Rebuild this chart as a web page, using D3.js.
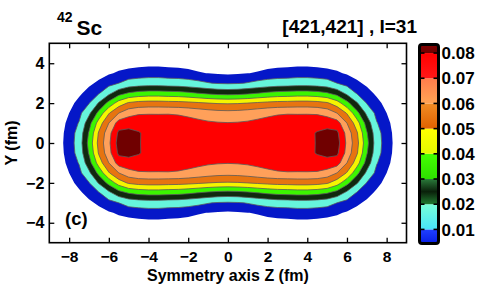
<!DOCTYPE html>
<html><head><meta charset="utf-8">
<script src="https://cdn.jsdelivr.net/npm/d3@7"></script>
<style>
body{margin:0;background:#fff}
svg{display:block}
text{font-family:"Liberation Sans",Arial,Helvetica,sans-serif;font-weight:bold;fill:#000}
</style>
</head><body>
<svg id="c" width="480" height="286"></svg>
<script>
// ---- data (one quadrant of the symmetric density, |Z| across, |Y| down) ----
const xHalf = [0,0.5,1,1.5,2,2.5,3,3.5,4,4.5,5,5.5,6,6.5,7,7.5,8,8.5,9];
const yHalf = [0,0.5,1,1.5,2,2.5,3,3.5,4,4.5,5];
const densityRows = [
 [0.0725,0.0727,0.0734,0.0743,0.0751,0.0758,0.0760,0.0763,0.0780,0.0805,0.0845,0.0842,0.0680,0.0533,0.0332,0.0145,0.0055,0.0030,0.0014],
 [0.0720,0.0722,0.0729,0.0738,0.0746,0.0753,0.0755,0.0758,0.0772,0.0808,0.0830,0.0820,0.0665,0.0513,0.0309,0.0135,0.0053,0.0029,0.0014],
 [0.0703,0.0706,0.0712,0.0722,0.0731,0.0737,0.0740,0.0742,0.0745,0.0755,0.0760,0.0745,0.0600,0.0446,0.0259,0.0105,0.0048,0.0026,0.0012],
 [0.0635,0.0639,0.0650,0.0665,0.0680,0.0691,0.0695,0.0694,0.0694,0.0690,0.0665,0.0600,0.0492,0.0332,0.0178,0.0074,0.0040,0.0021,0.0010],
 [0.0490,0.0493,0.0501,0.0513,0.0524,0.0532,0.0535,0.0540,0.0540,0.0533,0.0513,0.0446,0.0332,0.0210,0.0095,0.0050,0.0029,0.0015,0.0007],
 [0.0263,0.0268,0.0281,0.0299,0.0317,0.0330,0.0335,0.0341,0.0341,0.0332,0.0309,0.0259,0.0175,0.0092,0.0052,0.0034,0.0020,0.0011,0.0005],
 [0.0090,0.0094,0.0104,0.0118,0.0131,0.0141,0.0145,0.0153,0.0153,0.0145,0.0132,0.0100,0.0068,0.0047,0.0033,0.0021,0.0012,0.0006,0.0003],
 [0.0033,0.0035,0.0039,0.0044,0.0050,0.0054,0.0055,0.0058,0.0058,0.0055,0.0051,0.0045,0.0036,0.0027,0.0019,0.0012,0.0007,0.0004,0.0002],
 [0.0012,0.0013,0.0017,0.0021,0.0026,0.0029,0.0030,0.0031,0.0031,0.0030,0.0028,0.0024,0.0019,0.0014,0.0010,0.0006,0.0004,0.0002,0.0002],
 [0.0004,0.0005,0.0006,0.0008,0.0010,0.0011,0.0012,0.0015,0.0015,0.0014,0.0013,0.0011,0.0009,0.0007,0.0005,0.0003,0.0002,0.0001,0.0001],
 [0.0001,0.0001,0.0002,0.0003,0.0003,0.0004,0.0004,0.0006,0.0006,0.0006,0.0006,0.0005,0.0004,0.0003,0.0002,0.0002,0.0001,0.0001,0.0001]
];
const levels      = [0.004, 0.01, 0.02, 0.03, 0.04, 0.05, 0.06, 0.07, 0.08];
const levelColors = ["#0517c8","#66f5dc","#10290f","#3cf500","#f5f500","#e77410","#ffa05a","#ff0000","#700000"];
const barStops = [
 ["#2040ff","#0a22e8"],
 ["#78ffd8","#48e4f8"],
 ["#2a7a3a","#0a200a","#207a30"],
 ["#44ff00","#2ee000"],
 ["#ffff00","#e4f800"],
 ["#f08c24","#e06200"],
 ["#ff7c4c","#ffa454"],
 ["#ff0000","#ff1818"],
 ["#800000","#6a0000"]
];
const xTicks = [-8,-6,-4,-2,0,2,4,6,8];
const yTicks = [-4,-2,0,2,4];
const cbTicks = [0.01,0.02,0.03,0.04,0.05,0.06,0.07,0.08];
const cbDomain = [0.005, 0.0828];
const xDomain = [-9, 9], yDomain = [-5, 5];

// ---- layout ----
const svg = d3.select("#c");
const L = 49.3, R = 406.5, T = 43.3, B = 242.7;
const x = d3.scaleLinear().domain(xDomain).range([L, R]);
const y = d3.scaleLinear().domain(yDomain).range([B, T]);

// full grid from the quadrant
const xs = [...xHalf.slice(1).map(v => -v).reverse(), ...xHalf];
const ys = [...yHalf.slice(1).map(v => -v).reverse(), ...yHalf];
const nx = xs.length, ny = ys.length;
const values = [];
for (let j = 0; j < ny; j++) {
  const r = yHalf.indexOf(Math.abs(ys[j]));
  for (let i = 0; i < nx; i++) {
    const c = xHalf.indexOf(Math.abs(xs[i]));
    values.push(densityRows[r][c]);
  }
}
const xi = d3.scaleLinear().domain([0.5, nx - 0.5]).range([x(xs[0]), x(xs[nx - 1])]);
const yi = d3.scaleLinear().domain([0.5, ny - 0.5]).range([y(ys[0]), y(ys[ny - 1])]);
const proj = d3.geoTransform({point(px, py) { this.stream.point(xi(px), yi(py)); }});
const path = d3.geoPath(proj);

const contours = d3.contours().size([nx, ny]).thresholds(levels)(values);
const color = d3.scaleOrdinal().domain(levels).range(levelColors);

svg.append("clipPath").attr("id", "pc").append("rect")
  .attr("x", L).attr("y", T).attr("width", R - L).attr("height", B - T);
svg.append("g").attr("clip-path", "url(#pc)")
  .selectAll("path").data(contours).join("path")
  .attr("d", path)
  .attr("fill", d => color(d.value))
  .attr("stroke", (d, i) => i === 0 ? "none" : "#5a5a5a")
  .attr("stroke-width", 0.8)
  .attr("stroke-linejoin", "round");

// ---- axes ----
const fmt = d => d3.format("d")(d);
const gx = svg.append("g").attr("transform", `translate(0,${B})`)
  .call(d3.axisBottom(x).tickValues(xTicks).tickSize(-5).tickPadding(9).tickFormat(fmt));
const gxt = svg.append("g").attr("transform", `translate(0,${T})`)
  .call(d3.axisTop(x).tickValues(xTicks).tickSize(-5).tickFormat(""));
const gy = svg.append("g").attr("transform", `translate(${L},0)`)
  .call(d3.axisLeft(y).tickValues(yTicks).tickSize(-5).tickPadding(5).tickFormat(fmt));
const gyr = svg.append("g").attr("transform", `translate(${R},0)`)
  .call(d3.axisRight(y).tickValues(yTicks).tickSize(-5).tickFormat(""));
[gx, gxt, gy, gyr].forEach(g => {
  g.select(".domain").remove();
  g.selectAll(".tick line").attr("stroke", "#000").attr("stroke-width", 1.3);
  g.selectAll("text").attr("font-size", 16).attr("font-family", null).attr("fill", "#000");
});
gx.selectAll("text").attr("font-size", 15.5).attr("dy", "0.68em");
svg.append("rect").attr("x", L).attr("y", T).attr("width", R - L).attr("height", B - T)
  .attr("fill", "none").attr("stroke", "#000").attr("stroke-width", 1.6);

// ---- texts ----
svg.append("text").attr("x", 227.9).attr("y", 280.5).attr("text-anchor", "middle")
  .attr("font-size", 16).text("Symmetry axis Z (fm)");
svg.append("text").attr("transform", "translate(17,143) rotate(-90)").attr("text-anchor", "middle")
  .attr("font-size", 16).text("Y (fm)");
svg.append("text").attr("x", 65).attr("y", 225).attr("font-size", 18.5).text("(c)");
svg.append("text").attr("x", 57).attr("y", 22).attr("font-size", 14).text("42");
svg.append("text").attr("x", 76.5).attr("y", 34.5).attr("font-size", 21).text("Sc");
svg.append("text").attr("x", 417).attr("y", 33).attr("text-anchor", "end")
  .attr("font-size", 19).text("[421,421] , I=31");

// ---- colorbar ----
const cbX = 421, cbW = 16, cbTop = 46, cbBot = 242;
const cb = d3.scaleLinear().domain(cbDomain).range([cbBot, cbTop]);
const defs = svg.append("defs");
const bandEdges = [...levels, cbDomain[1]];
levels.forEach((lv, k) => {
  const lo = Math.max(lv, cbDomain[0]), hi = Math.min(bandEdges[k + 1], cbDomain[1]);
  const gid = "g" + k;
  const gr = defs.append("linearGradient").attr("id", gid).attr("x1", 0).attr("x2", 0).attr("y1", 0).attr("y2", 1);
  const st = barStops[k];
  st.forEach((c, m) => gr.append("stop").attr("offset", m / (st.length - 1)).attr("stop-color", c));
  svg.append("rect").attr("x", cbX).attr("width", cbW)
    .attr("y", cb(hi)).attr("height", cb(lo) - cb(hi))
    .attr("fill", `url(#${gid})`);
});
cbTicks.forEach(t => {
  svg.append("line").attr("x1", cbX).attr("x2", cbX + 3.5).attr("y1", cb(t)).attr("y2", cb(t))
    .attr("stroke", "#000").attr("stroke-width", 1.6);
  svg.append("line").attr("x1", cbX + cbW - 3.5).attr("x2", cbX + cbW).attr("y1", cb(t)).attr("y2", cb(t))
    .attr("stroke", "#000").attr("stroke-width", 1.6);
  svg.append("text").attr("x", 441.5).attr("y", cb(t)).attr("dy", "0.36em")
    .attr("font-size", 17).text(d3.format(".2f")(t));
});
svg.append("rect").attr("x", cbX - 1.5).attr("y", cbTop - 1.5).attr("width", cbW + 3).attr("height", cbBot - cbTop + 3)
  .attr("rx", 2.5).attr("fill", "none").attr("stroke", "#000").attr("stroke-width", 3);
</script>
</body></html>
